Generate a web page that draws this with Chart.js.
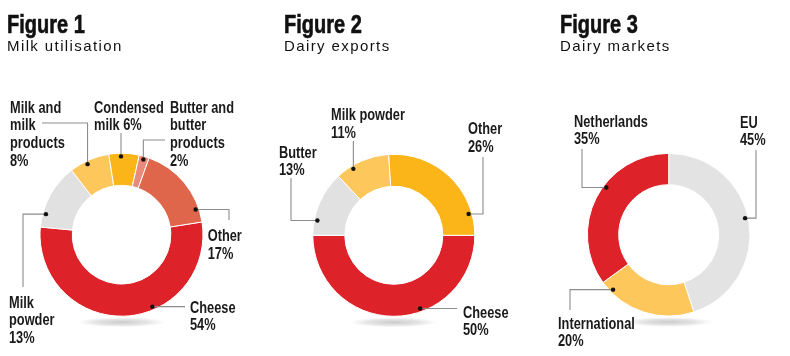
<!DOCTYPE html>
<html><head><meta charset="utf-8">
<script src="https://cdn.jsdelivr.net/npm/chart.js@4"></script>
<style>
html,body{margin:0;padding:0;background:#fff;}
#wrap{position:relative;width:790px;height:356px;overflow:hidden;background:#fff;}
canvas{position:absolute;left:0;top:0;}
.t{position:absolute;font-family:"Liberation Sans",sans-serif;font-weight:bold;font-size:25px;line-height:25px;color:#111;white-space:nowrap;transform:scaleX(0.8);transform-origin:0 0;-webkit-text-stroke:0.6px #111;}
.s{position:absolute;font-family:"Liberation Sans",sans-serif;font-size:15px;line-height:15px;letter-spacing:1.4px;color:#111;white-space:nowrap;}
</style></head><body>
<div id="wrap">
<canvas id="c1" width="790" height="356"></canvas>
<canvas id="c2" width="790" height="356"></canvas>
<canvas id="c3" width="790" height="356"></canvas>
</div>
<script>
// ---- data ----
const titles = ['Figure 1', 'Figure 2', 'Figure 3'];
const subtitles = ['Milk utilisation', 'Dairy exports', 'Dairy markets'];

const fig1Categories = ['Cheese', 'Milk powder', 'Milk and milk products', 'Condensed milk', 'Butter and butter products', 'Other'];
const fig1Values = [54, 13, 8, 6, 2, 17];

const fig2Categories = ['Cheese', 'Butter', 'Milk powder', 'Other'];
const fig2Values = [50, 13, 11, 26];

const fig3Categories = ['EU', 'International', 'Netherlands'];
const fig3Values = [45, 20, 35];

// ---- styles ----
const RED = '#dd2229', GREY = '#e1e1e1', LORANGE = '#fdc75b', AMBER = '#fbb519', PINK = '#ea8b7a', ORED = '#e0664b';
const fig1Colors = [RED, GREY, LORANGE, AMBER, PINK, ORED];
const fig2Colors = [RED, GREY, LORANGE, AMBER];
const fig3Colors = ['#e3e3e3', LORANGE, RED];

// ---- layout ----
const titlePos = [{x: 7, y: 12}, {x: 284, y: 12}, {x: 560, y: 12}];
const subPos = [{x: 7, y: 38}, {x: 284, y: 38}, {x: 560, y: 38}];

const layouts = [
  { cx: 121.5, cy: 234.7, r: 81.5, cut: '60.5%', rot: 81,
    labels: [
      {t: 0.39, x: 190, y: 306.7, lines: ['Cheese', '{v}%'], path: [['h', 185]]},
      {t: 0.21, x: 9, y: 301.7, lines: ['Milk', 'powder', '{v}%'], path: [['h', 23], ['v', 287]]},
      {t: 0.42, x: 10, y: 106.7, lines: ['Milk and', 'milk', 'products', '{v}%'], path: [['v', 123], ['h', 42]]},
      {t: 0.40, x: 94, y: 106.7, lines: ['Condensed', 'milk {v}%'], path: [['v', 133]]},
      {t: 0.50, x: 170, y: 106.7, lines: ['Butter and', 'butter', 'products', '{v}%'], path: [['v', 140], ['h', 165]]},
      {t: 0.84, x: 207.7, y: 235, lines: ['Other', '{v}%'], path: [['h', 229], ['v', 220]]}
    ]},
  { cx: 393.8, cy: 235.3, r: 81, cut: '60.5%', rot: 90,
    labels: [
      {t: 0.39, x: 463, y: 311.7, lines: ['Cheese', '{v}%'], path: [['h', 457]]},
      {t: 0.235, x: 279, y: 151.7, lines: ['Butter', '{v}%'], path: [['h', 291], ['v', 178]]},
      {t: 0.30, x: 331, y: 114, lines: ['Milk powder', '{v}%'], path: [['v', 141]]},
      {t: 0.83, x: 468, y: 128.3, lines: ['Other', '{v}%'], path: [['h', 483], ['v', 157]]}
    ]},
  { cx: 668.7, cy: 234.7, r: 81.3, cut: '61.5%', rot: 0,
    labels: [
      {t: 0.48, x: 740, y: 121.7, lines: ['EU', '{v}%'], path: [['h', 756], ['v', 150]]},
      {t: 0.88, x: 558, y: 322.7, lines: ['International', '{v}%'], path: [['h', 570], ['v', 310]]},
      {t: 0.58, x: 574, y: 120.7, lines: ['Netherlands', '{v}%'], path: [['h', 582], ['v', 149]]}
    ]}
];

const LABEL_FONT = 'bold 16px "Liberation Sans", sans-serif';
const LABEL_SCALE = 0.8;
const LINE_H = 17.8;

// titles as DOM text
const wrap = document.getElementById('wrap');
titles.forEach((t, i) => {
  const d = document.createElement('div'); d.className = 't'; d.textContent = t;
  d.style.left = titlePos[i].x + 'px'; d.style.top = titlePos[i].y + 'px'; wrap.appendChild(d);
  const s = document.createElement('div'); s.className = 's'; s.textContent = subtitles[i];
  s.style.left = subPos[i].x + 'px'; s.style.top = subPos[i].y + 'px'; wrap.appendChild(s);
});

const leaderPlugin = {
  id: 'leaders',
  beforeDatasetsDraw(chart, args, opts) {
    const arc = chart.getDatasetMeta(0).data[0];
    const p = arc.getProps(['x', 'y', 'outerRadius'], true);
    const ctx = chart.ctx;
    ctx.save();
    const rx = p.outerRadius * 0.55, ry = 5;
    ctx.translate(p.x, p.y + p.outerRadius + 6);
    ctx.scale(1, ry / rx);
    const g = ctx.createRadialGradient(0, 0, 0, 0, 0, rx);
    g.addColorStop(0, 'rgba(160,160,160,0.55)');
    g.addColorStop(0.6, 'rgba(180,180,180,0.35)');
    g.addColorStop(1, 'rgba(200,200,200,0)');
    ctx.fillStyle = g;
    ctx.beginPath(); ctx.arc(0, 0, rx, 0, Math.PI * 2); ctx.fill();
    ctx.restore();
  },
  afterDatasetsDraw(chart, args, opts) {
    const meta = chart.getDatasetMeta(0);
    const values = chart.data.datasets[0].data;
    const ctx = chart.ctx;
    ctx.save();
    opts.labels.forEach((L, i) => {
      const p = meta.data[i].getProps(['x', 'y', 'startAngle', 'endAngle', 'innerRadius', 'outerRadius'], true);
      const a = p.startAngle + (p.endAngle - p.startAngle) * L.t;
      const r = p.innerRadius + (p.outerRadius - p.innerRadius) * 0.9;
      const dx = p.x + r * Math.cos(a), dy = p.y + r * Math.sin(a);
      ctx.strokeStyle = '#8c8c8c'; ctx.lineWidth = 1.1;
      ctx.beginPath(); ctx.moveTo(dx, dy);
      let px = dx, py = dy;
      L.path.forEach(([k, v]) => { if (k === 'h') px = v; else py = v; ctx.lineTo(px, py); });
      ctx.stroke();
      ctx.fillStyle = '#111';
      ctx.beginPath(); ctx.arc(dx, dy, 2.2, 0, Math.PI * 2); ctx.fill();
      ctx.font = LABEL_FONT; ctx.textBaseline = 'alphabetic'; ctx.textAlign = 'left';
      ctx.fillStyle = '#1a1a1a';
      L.lines.forEach((ln, j) => {
        ctx.save();
        ctx.translate(L.x, L.y + j * LINE_H + 5.8);
        ctx.scale(LABEL_SCALE, 1);
        ctx.fillText(ln.replace('{v}', values[i]), 0, 0);
        ctx.restore();
      });
    });
    ctx.restore();
  }
};

function makeChart(id, cats, vals, colors, lay) {
  const s = 92;
  new Chart(document.getElementById(id), {
    type: 'doughnut',
    data: { labels: cats, datasets: [{ data: vals, backgroundColor: colors, borderColor: '#ffffff', borderWidth: 1, hoverOffset: 0 }] },
    options: {
      responsive: false, animation: false, devicePixelRatio: 1,
      radius: lay.r, cutout: lay.cut, rotation: lay.rot,
      layout: { padding: { left: lay.cx - s, right: 790 - lay.cx - s, top: lay.cy - s, bottom: 356 - lay.cy - s } },
      plugins: { legend: { display: false }, tooltip: { enabled: false }, leaders: { labels: lay.labels } },
      events: []
    },
    plugins: [leaderPlugin]
  });
}

makeChart('c1', fig1Categories, fig1Values, fig1Colors, layouts[0]);
makeChart('c2', fig2Categories, fig2Values, fig2Colors, layouts[1]);
makeChart('c3', fig3Categories, fig3Values, fig3Colors, layouts[2]);
</script>
</body></html>
